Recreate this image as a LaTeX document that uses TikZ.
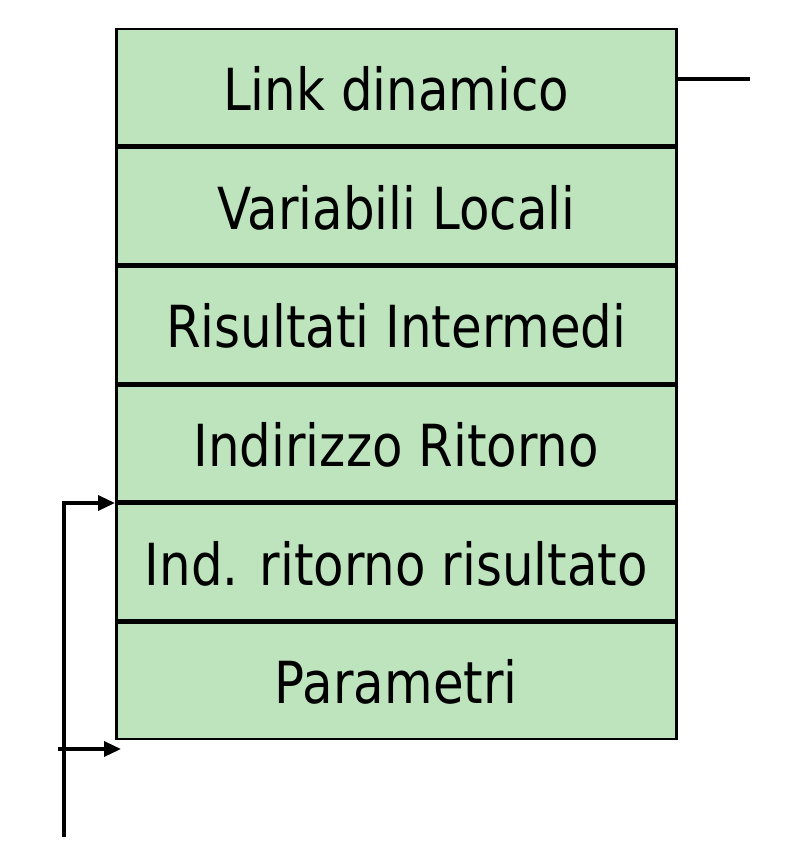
\documentclass[tikz,border=0pt]{standalone}
\usepackage{fontspec}
\setmainfont{DejaVu Sans}[FakeStretch=0.86]
\usetikzlibrary{arrows.meta}
\definecolor{cellgreen}{RGB}{190,228,190}
\begin{document}
\begin{tikzpicture}[x=1pt,y=-1pt,
  cell/.style={draw=black, line width=2.5pt, fill=cellgreen, minimum width=560pt, minimum height=116.2pt, inner sep=0pt, text height=46pt, text depth=0pt, anchor=north west, font=\fontsize{58}{64}\selectfont},
  wire/.style={line width=3.4pt, draw=black},
  arr/.style={wire, -{Triangle[length=17pt,width=15pt]}}]
\useasboundingbox (0,0) rectangle (786,864);
\node[cell] (c1) at (115,28) {Link dinamico};
\node[cell] (c2) at (c1.south west) {Variabili Locali};
\node[cell] (c3) at (c2.south west) {Risultati Intermedi};
\node[cell] (c4) at (c3.south west) {Indirizzo Ritorno};
\node[cell] (c5) at (c4.south west) {Ind. ritorno risultato};
\node[cell] (c6) at (c5.south west) {Parametri};
\coordinate (linkend) at (750,79);
\draw[wire] (c1.east |- linkend) -- (linkend);
\coordinate (vbot) at (64,837);
\coordinate (vtop) at (64,503);
\draw[arr] (vbot) -- (vtop) -- (vtop -| c5.west);
\coordinate (a2s) at (58,749);
\coordinate (a2e) at (121,749);
\draw[arr] (a2s) -- (a2e);
\end{tikzpicture}
\end{document}
